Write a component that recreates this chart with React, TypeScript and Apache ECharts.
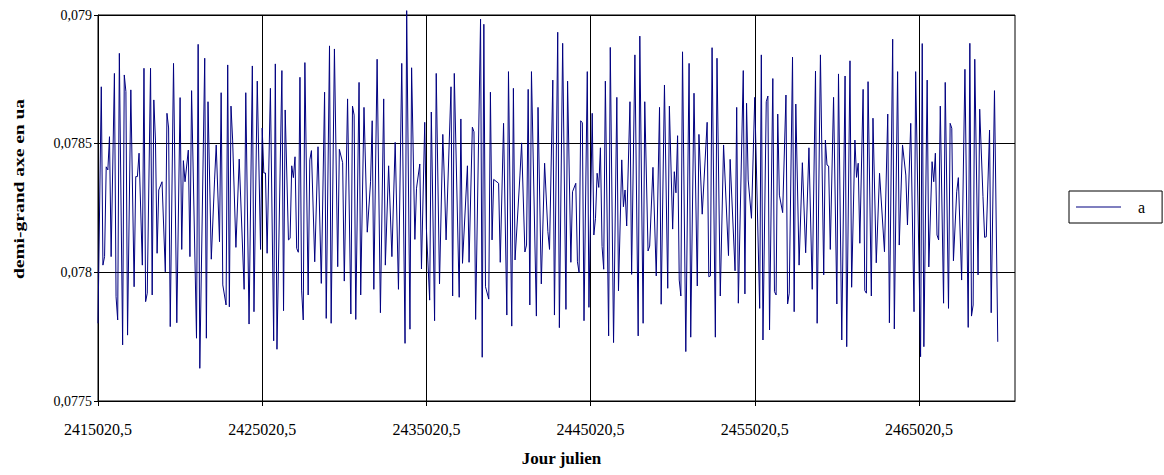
import React, { useEffect, useRef } from "react";
import * as echarts from "echarts";

// Sample index (each sample = 100 days after JD 2415020.5) of the vertices
const sampleIndex = [
  0, 2, 3, 4, 5, 6, 7, 8, 10, 11, 12, 13, 15, 16, 17, 18, 20, 22, 23, 24, 25, 27, 28, 29, 30, 32, 33, 34, 35, 36, 37, 39,
  41, 42, 43, 44, 46, 48, 50, 51, 52, 53, 55, 56, 57, 60, 61, 62, 65, 66, 67, 69, 71, 72, 74, 75, 76, 78, 79, 80, 81, 82,
  84, 86, 89, 90, 92, 94, 95, 97, 99, 100, 101, 102, 103, 105, 107, 108, 109, 112, 113, 114, 116, 117, 118, 119, 120,
  121, 122, 123, 124, 125, 126, 128, 129, 130, 132, 134, 136, 138, 139, 141, 142, 144, 146, 147, 149, 150, 152, 154,
  155, 156, 157, 159, 160, 162, 164, 166, 167, 168, 170, 172, 174, 175, 177, 179, 181, 183, 185, 187, 188, 190, 191,
  193, 194, 196, 197, 199, 200, 202, 203, 205, 206, 208, 210, 211, 212, 215, 216, 217, 220, 221, 222, 225, 226, 228,
  229, 230, 233, 234, 235, 236, 238, 239, 240, 241, 244, 245, 247, 249, 250, 252, 253, 254, 257, 258, 260, 261, 262,
  263, 264, 267, 268, 270, 272, 274, 275, 277, 278, 280, 281, 283, 285, 286, 288, 289, 291, 292, 293, 294, 295, 296,
  298, 299, 301, 302, 303, 304, 305, 306, 307, 308, 309, 311, 312, 314, 316, 317, 319, 320, 321, 322, 324, 325, 327,
  329, 330, 332, 333, 335, 336, 338, 340, 342, 343, 345, 347, 348, 350, 351, 352, 353, 354, 355, 356, 358, 360, 361,
  363, 365, 366, 368, 371, 372, 373, 374, 376, 377, 379, 381, 384, 385, 388, 389, 390, 393, 394, 395, 396, 398, 400,
  403, 404, 405, 407, 408, 409, 411, 412, 413, 414, 415, 417, 419, 420, 421, 423, 424, 425, 427, 429, 431, 433, 435,
  437, 438, 440, 442, 443, 444, 445, 446, 448, 450, 451, 453, 455, 456, 458, 459, 461, 462, 463, 464, 466, 467, 468,
  469, 471, 472, 474, 476, 479, 481, 482, 484, 485, 487, 488, 490, 492, 493, 495, 497, 498, 501, 502, 503, 505, 506,
  508, 509, 510, 511, 512, 513, 515, 516, 518, 519, 520, 521, 523, 524, 526, 528, 530, 531, 532, 533, 534, 536, 537,
  539, 540, 541, 543, 544, 546, 548,
];

// Semi-major axis (AU) at those samples
const semiMajorAxis = [
  0.077802, 0.078721, 0.078028, 0.078061, 0.07841, 0.078398, 0.078527, 0.078061, 0.078773, 0.077905, 0.077815, 0.078851,
  0.077718, 0.078767, 0.078702, 0.077756, 0.078709, 0.077944, 0.078372, 0.078372, 0.078463, 0.078028, 0.078793, 0.077886,
  0.077919, 0.078793, 0.077912, 0.07867, 0.078514, 0.078074, 0.07832, 0.078352, 0.078002, 0.078618, 0.078561, 0.077789,
  0.078812, 0.077804, 0.078679, 0.078089, 0.078434, 0.078352, 0.078475, 0.078061, 0.078706, 0.077744, 0.078886, 0.077627,
  0.078832, 0.077744, 0.078663, 0.078051, 0.078359, 0.078495, 0.078119, 0.078698, 0.077951, 0.077873, 0.078806, 0.077866,
  0.078646, 0.078514, 0.078097, 0.07844, 0.077934, 0.078698, 0.077799, 0.078802, 0.077847, 0.078743, 0.078089, 0.078561,
  0.078386, 0.078386, 0.078074, 0.078715, 0.077734, 0.07881, 0.077701, 0.078784, 0.077851, 0.078631, 0.078126, 0.078132,
  0.078414, 0.078368, 0.078449, 0.078093, 0.078078, 0.078758, 0.077931, 0.077815, 0.078815, 0.077912, 0.078437, 0.078473,
  0.078041, 0.078488, 0.077957, 0.0787, 0.077821, 0.07888, 0.077802, 0.078868, 0.078022, 0.078478, 0.078426, 0.077966,
  0.078674, 0.077838, 0.078646, 0.078611, 0.077817, 0.078738, 0.077912, 0.078641, 0.078156, 0.078352, 0.078589, 0.077934,
  0.078828, 0.077843, 0.078674, 0.078028, 0.078414, 0.078061, 0.078505, 0.077934, 0.078812, 0.077724, 0.079017, 0.077779,
  0.078795, 0.078128, 0.078327, 0.078421, 0.078013, 0.078583, 0.078171, 0.077892, 0.078623, 0.077812, 0.078773, 0.077955,
  0.078536, 0.078351, 0.078126, 0.078721, 0.077908, 0.078773, 0.077903, 0.078596, 0.078035, 0.078414, 0.078039, 0.078564,
  0.078546, 0.077817, 0.078984, 0.07767, 0.078964, 0.077944, 0.077896, 0.0787, 0.078126, 0.078361, 0.078346, 0.078039,
  0.078579, 0.077834, 0.07878, 0.077791, 0.078715, 0.078048, 0.078378, 0.078503, 0.078079, 0.078106, 0.078711, 0.077873,
  0.07878, 0.07783, 0.078641, 0.077955, 0.078424, 0.078158, 0.078089, 0.078747, 0.077834, 0.078933, 0.077785, 0.07889,
  0.077856, 0.078743, 0.078039, 0.078313, 0.078346, 0.078041, 0.077999, 0.078589, 0.078581, 0.077812, 0.07878, 0.077864,
  0.078618, 0.078145, 0.07821, 0.078385, 0.07833, 0.078484, 0.0781, 0.078012, 0.078743, 0.077753, 0.078874, 0.077727,
  0.07868, 0.077928, 0.078437, 0.078255, 0.07832, 0.07818, 0.078663, 0.077992, 0.078845, 0.077753, 0.078918, 0.077802,
  0.078663, 0.078083, 0.078102, 0.078408, 0.077986, 0.078641, 0.077876, 0.078728, 0.077938, 0.078646, 0.078168, 0.078391,
  0.078309, 0.078531, 0.07797, 0.077908, 0.078857, 0.077692, 0.078812, 0.077748, 0.078696, 0.077947, 0.078536, 0.078226,
  0.078583, 0.077983, 0.077986, 0.078873, 0.077748, 0.078832, 0.077908, 0.078495, 0.078065, 0.078439, 0.078006, 0.078641,
  0.07788, 0.078784, 0.077916, 0.078657, 0.078359, 0.07821, 0.07868, 0.07786, 0.078845, 0.077737, 0.078663, 0.078685,
  0.077776, 0.078753, 0.077925, 0.077912, 0.078615, 0.0783, 0.078232, 0.078689, 0.077877, 0.077919, 0.078836, 0.077847,
  0.078654, 0.078028, 0.078426, 0.078076, 0.078484, 0.077934, 0.078782, 0.077802, 0.078845, 0.07799, 0.078514, 0.078417,
  0.078413, 0.078089, 0.07868, 0.077877, 0.078771, 0.077737, 0.078763, 0.077711, 0.078822, 0.077942, 0.078514, 0.078369,
  0.078424, 0.078113, 0.078711, 0.077929, 0.077919, 0.078741, 0.077908, 0.078599, 0.078037, 0.078385, 0.07808, 0.078615,
  0.077804, 0.078906, 0.07778, 0.07878, 0.078106, 0.078495, 0.078378, 0.078184, 0.078579, 0.077847, 0.07878, 0.077672,
  0.078889, 0.077711, 0.078747, 0.078021, 0.07843, 0.078352, 0.078463, 0.078145, 0.078126, 0.078646, 0.07788, 0.078738,
  0.07786, 0.078579, 0.07856, 0.078045, 0.078313, 0.078368, 0.07797, 0.078789, 0.077786, 0.07889, 0.07783, 0.077873,
  0.078828, 0.07799, 0.078634, 0.078294, 0.078136, 0.078138, 0.078553, 0.077843, 0.078706, 0.07773,
];

const JD_START = 2415020.5;
const DAYS_PER_SAMPLE = 100;
const xTickDays = [0, 10000, 20000, 30000, 40000, 50000];
const yTicks = [0.0775, 0.078, 0.0785, 0.079];
const yTitle = "demi-grand axe en ua";
const xTitle = "Jour julien";

const FONT = "Liberation Serif";

export default function App() {
  const ref = useRef<HTMLDivElement>(null);

  useEffect(() => {
    document.body.style.margin = "0";
    if (!ref.current) return;
    const chart = echarts.init(ref.current, undefined, { renderer: "svg" });
    const data = sampleIndex.map((k, i) => [k * DAYS_PER_SAMPLE, semiMajorAxis[i]]);

    chart.setOption({
      animation: false,
      backgroundColor: "#ffffff",
      textStyle: { fontFamily: FONT, color: "#000" },
      grid: {
        left: 98,
        right: 149,
        top: 15,
        bottom: 74,
        containLabel: false,
        outerBoundsMode: "none",
        show: true,
        borderColor: "#000",
        borderWidth: 1,
        backgroundColor: "transparent",
      },
      graphic: [
        {
          type: "text",
          x: 19,
          y: 189,
          rotation: Math.PI / 2,
          scaleX: 1.3,
          scaleY: 1,
          silent: true,
          style: {
            text: yTitle,
            fontFamily: FONT,
            fontSize: 15,
            fontWeight: "bold",
            fill: "#000",
            textAlign: "center",
            textVerticalAlign: "middle",
          },
        },
      ],
      legend: {
        show: true,
        orient: "vertical",
        left: 1069,
        top: 191,
        padding: [8, 17, 8, 7],
        borderColor: "#000",
        borderWidth: 1,
        backgroundColor: "#fff",
        itemWidth: 45,
        itemHeight: 14,
        textStyle: { fontFamily: FONT, fontSize: 16, color: "#000", padding: [0, 0, 0, 12] },
        data: [{ name: "a", icon: "path://M0,6 L45,6 L45,7 L0,7 Z" }],
      },
      xAxis: {
        type: "value",
        min: 0,
        max: 55850,
        interval: 10000,
        name: xTitle,
        nameLocation: "middle",
        nameGap: 49,
        nameTextStyle: {
          fontFamily: FONT,
          fontSize: 17,
          fontWeight: "bold",
          color: "#000",
          padding: [0, 0, 0, 10],
        },
        axisLine: { show: true, lineStyle: { color: "#000", width: 1 } },
        axisTick: { show: true, length: 5, lineStyle: { color: "#000" }, customValues: xTickDays },
        axisLabel: {
          margin: 20,
          fontFamily: FONT,
          fontSize: 16,
          color: "#000",
          customValues: xTickDays,
          formatter: (v: number) => (JD_START + v).toFixed(1).replace(".", ","),
        },
        splitLine: { show: true, lineStyle: { color: "#000", width: 1 } },
      },
      yAxis: {
        type: "value",
        min: 0.0775,
        max: 0.079,
        interval: 0.0005,
        axisLine: { show: true, lineStyle: { color: "#000", width: 1 } },
        axisTick: { show: true, length: 4, lineStyle: { color: "#000" } },
        axisLabel: {
          margin: 6,
          fontFamily: FONT,
          fontSize: 14,
          color: "#000",
          formatter: (v: number) => {
            const s = String(parseFloat(v.toFixed(4)));
            return yTicks.some((t) => Math.abs(t - v) < 1e-9) ? s.replace(".", ",") : "";
          },
        },
        splitLine: { show: true, lineStyle: { color: "#000", width: 1 } },
      },
      series: [
        {
          name: "a",
          type: "line",
          data,
          symbol: "none",
          showSymbol: false,
          clip: false,
          lineStyle: { color: "#000080", width: 1 },
          itemStyle: { color: "#000080" },
        },
      ],
    });

    return () => chart.dispose();
  }, []);

  return (
    <div
      ref={ref}
      style={{ position: "fixed", left: 0, top: 0, width: 1164, height: 475 }}
    />
  );
}
